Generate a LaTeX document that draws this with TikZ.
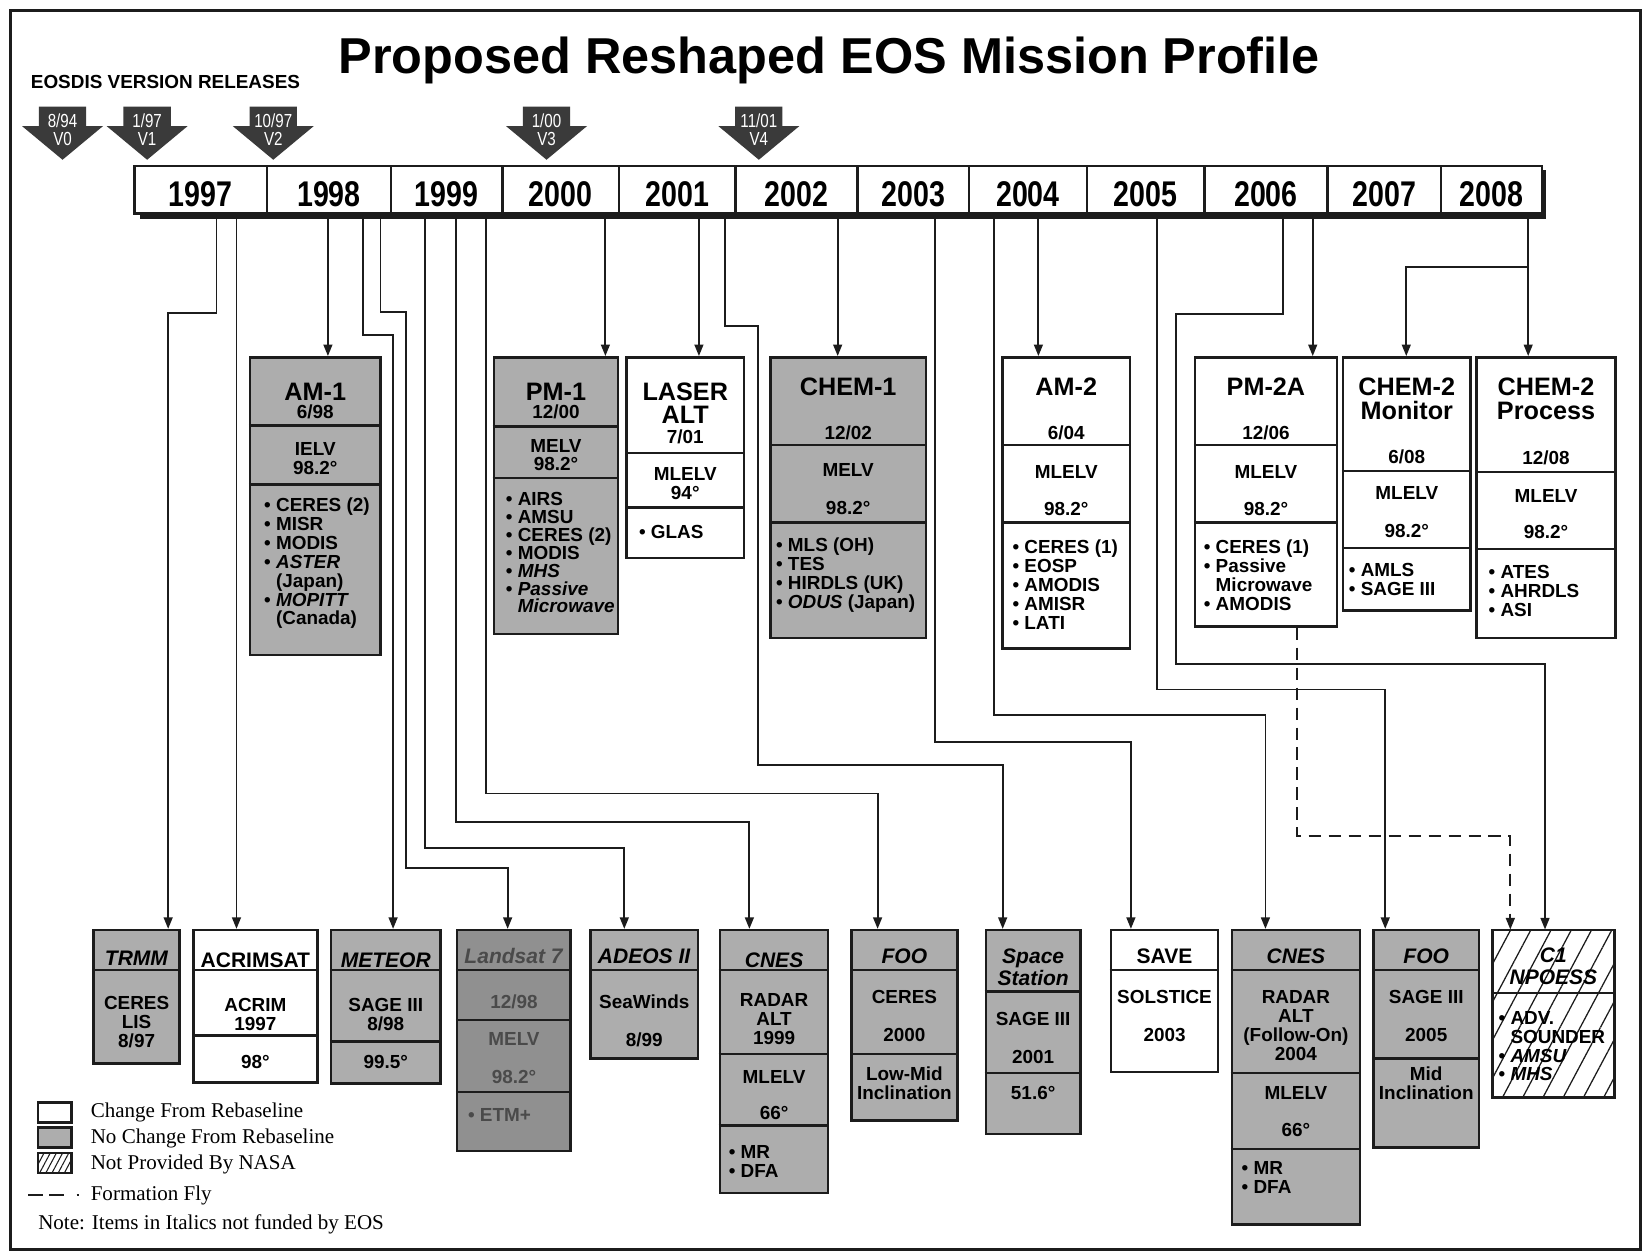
\documentclass[tikz,border=0pt]{standalone}
\usepackage{fontspec}
\setmainfont{Liberation Sans}
\newfontfamily\condfont[FakeStretch=0.8]{Liberation Sans}
\newfontfamily\seriffont{Liberation Serif}
\usetikzlibrary{arrows.meta,fit,patterns.meta}
\definecolor{cInk}{HTML}{1C1C1C}
\definecolor{cGray}{HTML}{ADADAD}
\definecolor{cDark}{HTML}{909090}
\definecolor{cRel}{HTML}{3A3A3A}
\definecolor{cFade}{HTML}{4A4A4A}
\tikzset{
  wbox/.style={draw=cInk,line width=1.2pt,fill=white,inner sep=0pt},
  gbox/.style={wbox,fill=cGray},
  dbox/.style={wbox,fill=cDark},
  hbox/.style={draw=cInk,line width=1.2pt,inner sep=0pt,
    pattern={Lines[angle=62,distance=8.5pt,line width=0.6pt]},pattern color=cInk},
  hboxs/.style={hbox,pattern={Lines[angle=62,distance=2.6pt,line width=0.5pt]}},
  yrcell/.style={wbox},
  yr/.style={font=\condfont\bfseries\fontsize{17}{17}\selectfont,inner sep=0pt},
  sepln/.style={draw=cInk,line width=1.2pt},
  hd/.style={font=\bfseries\fontsize{12}{11.5}\selectfont,align=center,inner sep=0pt},
  tx/.style={font=\bfseries\fontsize{9}{9}\selectfont,align=center,inner sep=0pt},
  lt/.style={font=\bfseries\fontsize{10}{10.3}\selectfont,align=center,inner sep=0pt},
  bl/.style={tx,align=left,anchor=west},
  rel/.style={font=\condfont\fontsize{9}{9}\selectfont,text=white,inner sep=0pt},
  lg/.style={font=\seriffont\fontsize{10}{10}\selectfont,anchor=west,inner sep=0pt},
  arr/.style={draw=cInk,line width=0.9pt,-{Triangle[length=5.5pt,width=4.2pt]}},
  fly/.style={arr,dash pattern=on 6pt off 3.5pt},
}
\newcommand{\bul}{\textbullet\ }
\newcommand{\divln}[2]{\draw[sepln] (#1.west |- 0,#2) -- (#1.east |- 0,#2);}

\begin{document}
\begin{tikzpicture}[x=0.5pt,y=-0.5pt]
\useasboundingbox[fill=white] (0,0) rectangle (1568,1198);
\draw[cInk,line width=1.6pt] (10,10) rectangle (1561,1189);

\node[font=\bfseries\fontsize{24}{24}\selectfont,anchor=base,inner sep=0pt] (title) at (789,70) {Proposed Reshaped EOS Mission Profile};
\node[font=\bfseries\fontsize{9}{9}\selectfont,anchor=base west,inner sep=0pt] (eosdis) at (29,84) {EOSDIS VERSION RELEASES};

\foreach \nm/\xx/\dt/\vv in {v0/59.5/{8/94}/V0,v1/140/{1/97}/V1,v2/260/{10/97}/V2,v3/520/{1/00}/V3,v4/722/{11/01}/V4}{
  \fill[cRel] (\xx-22.5,101.5) -- (\xx+22.5,101.5) -- (\xx+22.5,120) -- (\xx+38.5,120)
    -- (\xx,152) -- (\xx-38.5,120) -- (\xx-22.5,120) -- cycle;
  \node[rel] (\nm-d) at (\xx,115) {\dt};
  \node[rel] (\nm-v) at (\xx,132) {\vv};
}

\fill[cInk] (133,162) rectangle (1471,208);
\foreach \yy/\xa/\xb in {1997/128/254,1998/254/372,1999/372/478,2000/478/589,2001/589/700,2002/700/816,
  2003/816/922,2004/922/1034,2005/1034/1146,2006/1146/1263,2007/1263/1371,2008/1371/1467}{
  \node[yrcell,fit={(\xa,158) (\xb,203)}] (y\yy) {};
  \node[yr] (yt\yy) at ({(\xa+\xb)/2},185) {\yy};
}

\foreach \nm/\xx in {trmm/206,acrim/225,am1/312,meteor/345,landsat/362,adeos/404,cnes1/434,foo1/462,
  pm1/576,laser/665,station/690,chem1/797,save/890,cnes2/946,am2/988,foo2/1101,npoess/1221,pm2a/1249,chem2p/1454}
  \coordinate (t-\nm) at (\xx,208);
\coordinate (j2008) at (1454,254);

\node[gbox,fit={(238,340) (362,623)}] (am1) {};
\divln{am1}{405}\divln{am1}{461}
\node[hd] (am1-a) at (300,373) {AM-1};
\node[tx] (am1-b) at (300,392) {6/98};
\node[tx] (am1-c) at (300,436.5) {IELV\\98.2°};
\node[bl] (am1-d) at (251,536) {\bul CERES (2)\\\bul MISR\\\bul MODIS\\\bul\textit{ASTER}\\\phantom{\bul}(Japan)\\\bul\textit{MOPITT}\\\phantom{\bul}(Canada)};

\node[gbox,fit={(470,340) (588,603)}] (pm1) {};
\divln{pm1}{406}\divln{pm1}{455}
\node[hd] (pm1-a) at (529,373) {PM-1};
\node[tx] (pm1-b) at (529,392) {12/00};
\node[tx] (pm1-c) at (529,433) {MELV\\98.2°};
\node[bl,font=\bfseries\fontsize{9}{8.5}\selectfont] (pm1-d) at (481,526) {\bul AIRS\\\bul AMSU\\\bul CERES (2)\\\bul MODIS\\\bul\textit{MHS}\\\bul\textit{Passive}\\\phantom{\bul}\textit{Microwave}};

\node[wbox,fit={(596,340) (708,531)}] (laser) {};
\divln{laser}{431}\divln{laser}{483}
\node[hd,font=\bfseries\fontsize{12}{11}\selectfont] (laser-a) at (652,384) {LASER\\ALT};
\node[tx] (laser-b) at (652,415.5) {7/01};
\node[tx] (laser-c) at (652,460.5) {MLELV\\94°};
\node[bl] (laser-d) at (607.6,506) {\bul GLAS};

\node[gbox,fit={(733,340) (881,607)}] (chem1) {};
\divln{chem1}{423.5}\divln{chem1}{497}
\node[hd] (chem1-a) at (807,368) {CHEM-1};
\node[tx] (chem1-b) at (807,412) {12/02};
\node[tx] (chem1-c) at (807,447) {MELV};
\node[tx] (chem1-d) at (807,483) {98.2°};
\node[bl] (chem1-e) at (738,547) {\bul MLS (OH)\\\bul TES\\\bul HIRDLS (UK)\\\bul\textit{ODUS} (Japan)};

\node[wbox,fit={(954,340) (1075,617)}] (am2) {};
\divln{am2}{423.5}\divln{am2}{497}
\node[hd] (am2-a) at (1014.5,368) {AM-2};
\node[tx] (am2-b) at (1014.5,412) {6/04};
\node[tx] (am2-c) at (1014.5,449) {MLELV};
\node[tx] (am2-d) at (1014.5,484) {98.2°};
\node[bl] (am2-e) at (963,556) {\bul CERES (1)\\\bul EOSP\\\bul AMODIS\\\bul AMISR\\\bul LATI};

\node[wbox,fit={(1137,340) (1272,596)}] (pm2a) {};
\divln{pm2a}{423.5}\divln{pm2a}{497}
\node[hd] (pm2a-a) at (1204.5,368) {PM-2A};
\node[tx] (pm2a-b) at (1204.5,412) {12/06};
\node[tx] (pm2a-c) at (1204.5,449) {MLELV};
\node[tx] (pm2a-d) at (1204.5,484) {98.2°};
\node[bl] (pm2a-e) at (1145,547) {\bul CERES (1)\\\bul Passive\\\phantom{\bul}Microwave\\\bul AMODIS};

\node[wbox,fit={(1278,340) (1399,581)}] (chem2m) {};
\divln{chem2m}{448}\divln{chem2m}{521.5}
\node[hd] (chem2m-a) at (1338.5,379.5) {CHEM-2\\Monitor};
\node[tx] (chem2m-b) at (1338.5,434.5) {6/08};
\node[tx] (chem2m-c) at (1338.5,469) {MLELV};
\node[tx] (chem2m-d) at (1338.5,505) {98.2°};
\node[bl] (chem2m-e) at (1283,551) {\bul AMLS\\\bul SAGE III};

\node[wbox,fit={(1405,340) (1537,607)}] (chem2p) {};
\divln{chem2p}{449}\divln{chem2p}{522.5}
\node[hd] (chem2p-a) at (1471,379.5) {CHEM-2\\Process};
\node[tx] (chem2p-b) at (1471,436) {12/08};
\node[tx] (chem2p-c) at (1471,471.5) {MLELV};
\node[tx] (chem2p-d) at (1471,506) {98.2°};
\node[bl] (chem2p-e) at (1416,562) {\bul ATES\\\bul AHRDLS\\\bul ASI};

\node[gbox,fit={(89,885) (171,1012)}] (trmm) {};
\divln{trmm}{923}
\node[lt] (trmm-a) at (130,911.5) {\textit{TRMM}};
\node[tx] (trmm-b) at (130,972.5) {CERES\\LIS\\8/97};

\node[wbox,fit={(184,885) (302,1030)}] (acrim) {};
\divln{acrim}{923}\divln{acrim}{985}
\node[lt] (acrim-a) at (243,913.5) {ACRIMSAT};
\node[tx] (acrim-b) at (243,965) {ACRIM\\1997};
\node[tx] (acrim-c) at (243,1010) {98°};

\node[gbox,fit={(315,885) (419,1031)}] (meteor) {};
\divln{meteor}{923}\divln{meteor}{991}
\node[lt] (meteor-a) at (367,913.5) {\textit{METEOR}};
\node[tx] (meteor-b) at (367,965) {SAGE III\\8/98};
\node[tx] (meteor-c) at (367,1010) {99.5°};

\node[dbox,fit={(435,885) (543,1095)}] (landsat) {};
\divln{landsat}{923}\divln{landsat}{970.5}\divln{landsat}{1039}
\node[lt,text=cFade] (landsat-a) at (489,910) {\textit{Landsat 7}};
\node[tx,text=cFade] (landsat-b) at (489,953) {12/98};
\node[tx,text=cFade] (landsat-c) at (489,989) {MELV};
\node[tx,text=cFade] (landsat-d) at (489,1024.6) {98.2°};
\node[bl,text=cFade] (landsat-e) at (445,1061) {\bul ETM+};

\node[gbox,fit={(562,885) (664,1007)}] (adeos) {};
\divln{adeos}{923}
\node[lt] (adeos-a) at (613,910) {\textit{ADEOS II}};
\node[tx] (adeos-b) at (613,953) {SeaWinds};
\node[tx] (adeos-c) at (613,989) {8/99};

\node[gbox,fit={(685,885) (788,1135)}] (cnes1) {};
\divln{cnes1}{923}\divln{cnes1}{1003}\divln{cnes1}{1071}
\node[lt] (cnes1-a) at (736.5,913.5) {\textit{CNES}};
\node[tx] (cnes1-b) at (736.5,970) {RADAR\\ALT\\1999};
\node[tx] (cnes1-c) at (736.5,1024.6) {MLELV};
\node[tx] (cnes1-d) at (736.5,1059) {66°};
\node[bl] (cnes1-e) at (693,1105) {\bul MR\\\bul DFA};

\node[gbox,fit={(810,885) (911,1066)}] (foo1) {};
\divln{foo1}{923}\divln{foo1}{1003}
\node[lt] (foo1-a) at (860.5,910) {\textit{FOO}};
\node[tx] (foo1-b) at (860.5,948.6) {CERES};
\node[tx] (foo1-c) at (860.5,985) {2000};
\node[tx] (foo1-d) at (860.5,1030.5) {Low-Mid\\Inclination};

\node[gbox,fit={(938,885) (1028,1079)}] (station) {};
\divln{station}{943.5}\divln{station}{1021}
\node[lt] (station-a) at (983,920) {\textit{Space}\\\textit{Station}};
\node[tx] (station-b) at (983,969.6) {SAGE III};
\node[tx] (station-c) at (983,1005.6) {2001};
\node[tx] (station-d) at (983,1040) {51.6°};

\node[wbox,fit={(1057,885) (1159,1020)}] (save) {};
\divln{save}{923}
\node[lt] (save-a) at (1108,910) {SAVE};
\node[tx] (save-b) at (1108,948.6) {SOLSTICE};
\node[tx] (save-c) at (1108,985) {2003};

\node[gbox,fit={(1172,885) (1294,1165)}] (cnes2) {};
\divln{cnes2}{923}\divln{cnes2}{1021}\divln{cnes2}{1093}
\node[lt] (cnes2-a) at (1233,910) {\textit{CNES}};
\node[tx] (cnes2-b) at (1233,976) {RADAR\\ALT\\(Follow-On)\\2004};
\node[tx] (cnes2-c) at (1233,1040) {MLELV};
\node[tx] (cnes2-d) at (1233,1075) {66°};
\node[bl] (cnes2-e) at (1181,1120) {\bul MR\\\bul DFA};

\node[gbox,fit={(1307,885) (1407,1092)}] (foo2) {};
\divln{foo2}{923}\divln{foo2}{1007}
\node[lt] (foo2-a) at (1357,910) {\textit{FOO}};
\node[tx] (foo2-b) at (1357,948.6) {SAGE III};
\node[tx] (foo2-c) at (1357,985) {2005};
\node[tx] (foo2-d) at (1357,1030.5) {Mid\\Inclination};

\node[hbox,fit={(1420,885) (1536,1044)}] (npoess) {};
\divln{npoess}{944.6}
\node[lt] (npoess-a) at (1478,919.5) {\textit{C1}\\\textit{NPOESS}};
\node[bl] (npoess-b) at (1425.5,995.4) {\bul ADV.\\\phantom{\bul}SOUNDER\\\bul\textit{AMSU}\\\bul\textit{MHS}};

\draw[arr] (t-trmm) |- (160,298) -- (trmm.north -| 160,0);
\draw[arr] (t-acrim) -- (acrim.north -| t-acrim);
\draw[arr] (t-am1) -- (am1.north -| t-am1);
\draw[arr] (t-meteor) |- (374,319) -- (meteor.north -| 374,0);
\draw[arr] (t-landsat) |- (386,297) |- (483,826) -- (landsat.north -| 483,0);
\draw[arr] (t-adeos) |- (594,807) -- (adeos.north -| 594,0);
\draw[arr] (t-cnes1) |- (713,782) -- (cnes1.north -| 713,0);
\draw[arr] (t-foo1) |- (835,755) -- (foo1.north -| 835,0);
\draw[arr] (t-pm1) -- (pm1.north -| t-pm1);
\draw[arr] (t-laser) -- (laser.north -| t-laser);
\draw[arr] (t-station) |- (721,310) |- (954,728) -- (station.north -| 954,0);
\draw[arr] (t-chem1) -- (chem1.north -| t-chem1);
\draw[arr] (t-save) |- (1076,706) -- (save.north -| 1076,0);
\draw[arr] (t-cnes2) |- (1204,680) -- (cnes2.north -| 1204,0);
\draw[arr] (t-am2) -- (am2.north -| t-am2);
\draw[arr] (t-foo2) |- (1318,656) -- (foo2.north -| 1318,0);
\draw[arr] (t-npoess) |- (1119,299) |- (1470,632) -- (npoess.north -| 1470,0);
\draw[arr] (t-pm2a) -- (pm2a.north -| t-pm2a);
\draw[arr] (t-chem2p) -- (chem2p.north -| t-chem2p);
\draw[arr] (j2008) -| (chem2m.north -| 1338,0);
\draw[fly] (pm2a.south -| 1234,0) |- (1437,795) -- (npoess.north -| 1437,0);

\node[wbox,fit={(36,1049) (68,1068)}] (lg-w) {};
\node[gbox,fit={(36,1073) (68,1092)}] (lg-g) {};
\node[hboxs,fit={(36,1097) (68,1116)}] (lg-h) {};
\node[lg] (lg-wt) at (86,1058) {Change From Rebaseline};
\node[lg] (lg-gt) at (86,1083) {No Change From Rebaseline};
\node[lg] (lg-ht) at (86,1108) {Not Provided By NASA};
\coordinate (lg-fa) at (27,1137);
\coordinate (lg-fb) at (80,1137);
\draw[cInk,line width=0.9pt,dash pattern=on 7pt off 3pt on 7pt off 6pt on 1.2pt off 9pt] (lg-fa) -- (lg-fb);
\node[lg] (lg-ft) at (86,1137) {Formation Fly};
\node[lg] (note) at (36,1165) {Note: Items in Italics not funded by EOS};
\end{tikzpicture}
\end{document}
